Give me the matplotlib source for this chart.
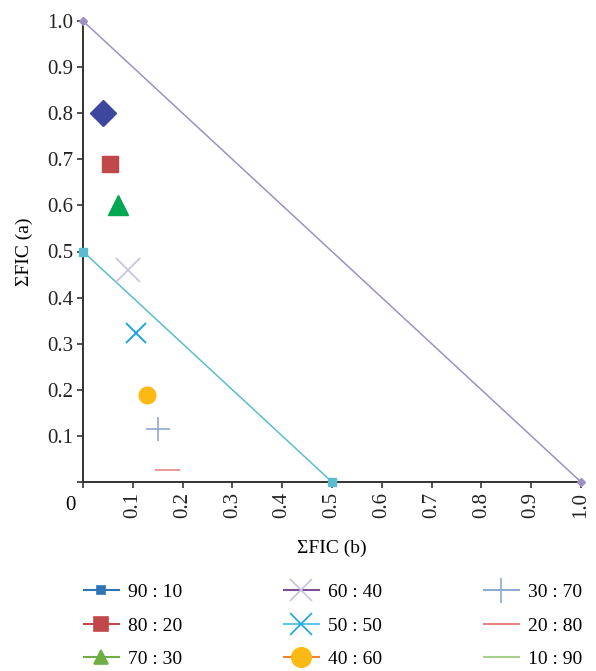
import numpy as np
import matplotlib

matplotlib.use('Agg')
from matplotlib import pyplot as plt
from matplotlib.lines import Line2D

plt.rcParams['font.family'] = ['Liberation Serif', 'DejaVu Serif']
plt.rcParams['font.size'] = 14

# combination ratios and their fractional inhibitory concentrations
ratios = ['90 : 10', '80 : 20', '70 : 30', '60 : 40', '50 : 50',
          '40 : 60', '30 : 70', '20 : 80', '10 : 90']
fic_b = [0.04, 0.054, 0.07, 0.09, 0.106, 0.128, 0.15, 0.168, np.nan]
fic_a = [0.80, 0.69, 0.60, 0.46, 0.323, 0.189, 0.115, 0.027, np.nan]

# isobole lines (additivity and synergy boundary)
additive_b = [0.0, 1.0]
additive_a = [1.0, 0.0]
synergy_b = [0.0, 0.5]
synergy_a = [0.5, 0.0]

x_ticks = [0.1, 0.2, 0.3, 0.4, 0.5, 0.6, 0.7, 0.8, 0.9, 1.0]
y_ticks = [0.1, 0.2, 0.3, 0.4, 0.5, 0.6, 0.7, 0.8, 0.9, 1.0]

# point styles: marker, colour, size, edge width
styles = [('D', '#3d479e', 13, 1),
          ('s', '#c0474a', 11.5, 1),
          ('^', '#00a651', 15, 1),
          ('x', '#c8c2e0', 17, 1.2),
          ('x', '#1aa7e0', 14, 1.4),
          ('o', '#fdb913', 12, 1),
          ('+', '#8eaad0', 17, 1.2),
          ('_', '#e98585', 18, 1.2),
          ('_', '#a8d08d', 18, 1.2)]

# legend entries: line colour, marker, marker colour, size
leg_styles = [('#2e75b6', 's', '#2e75b6', 6),
              ('#c0474a', 's', '#c0474a', 10),
              ('#70ad47', '^', '#70ad47', 10),
              ('#7a4f9a', 'x', '#c8c2e0', 16),
              ('#5bc8ec', 'x', '#1aa7e0', 16),
              ('#f58233', 'o', '#fdb913', 14),
              ('#8eaad0', '+', '#8eaad0', 18),
              ('#e98585', None, '#e98585', 0),
              ('#a8d08d', None, '#a8d08d', 0)]

fig = plt.figure(figsize=(5.96, 6.71), dpi=100)
ax = fig.add_axes([83 / 596, 1 - 482 / 671, 498 / 596, 461 / 671])

ax.plot(additive_b, additive_a, color='#9e90c2', lw=1.1, marker='D',
        markersize=4, clip_on=False, zorder=3)
ax.plot(synergy_b, synergy_a, color='#5bbccf', lw=1.1, marker='s',
        markersize=6, clip_on=False, zorder=3)

for b, a, (m, c, s, w) in zip(fic_b, fic_a, styles):
    ax.plot([b], [a], linestyle='none', marker=m, color=c, markersize=s,
            markeredgewidth=w, clip_on=False, zorder=4)

ax.set_xlim(0, 1.0)
ax.set_ylim(0, 1.0)
ax.set_xticks([0] + x_ticks)
ax.set_xticklabels([''] + ['%.1f' % v for v in x_ticks], rotation=90,
                   fontsize=15)
ax.set_yticks([0] + y_ticks)
ax.set_yticklabels([''] + ['%.1f' % v for v in y_ticks], fontsize=15)
ax.text(-0.026, -0.05, '0', transform=ax.transAxes, ha='center', va='center',
        fontsize=15)
ax.tick_params(direction='out', length=4, width=1.2, pad=3, color='#333333',
               labelcolor='#222222')
for side in ['top', 'right']:
    ax.spines[side].set_visible(False)
for side in ['left', 'bottom']:
    ax.spines[side].set_linewidth(1.4)
    ax.spines[side].set_color('#333333')

ax.set_xlabel('ΣFIC (b)', labelpad=16)
ax.set_ylabel('ΣFIC (a)', labelpad=10)

handles = []
for lc, m, mc, s in leg_styles:
    handles.append(Line2D([], [], color=lc, lw=1.5, marker=m, markersize=s,
                          markerfacecolor=mc, markeredgecolor=mc,
                          markeredgewidth=1.2))
fig.legend(handles, ratios, ncol=3, loc='upper left',
           bbox_to_anchor=(66 / 596, 1 - 566 / 671), frameon=False,
           handlelength=1.8, handletextpad=0.5, columnspacing=5.2,
           labelspacing=0.82)

fig.savefig('out.png', dpi=100)
